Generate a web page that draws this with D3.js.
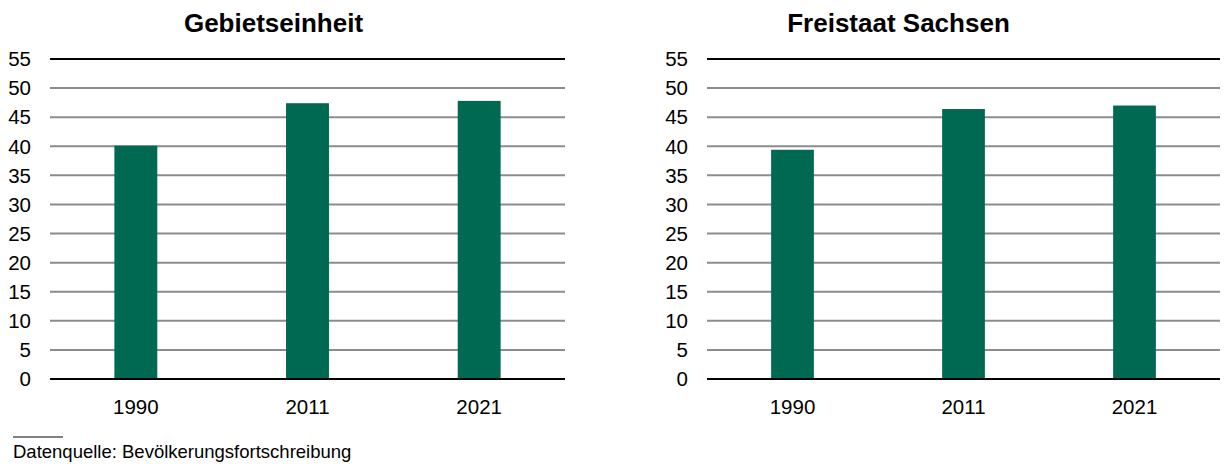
<!DOCTYPE html>
<html>
<head>
<meta charset="utf-8">
<script src="https://cdn.jsdelivr.net/npm/d3@7"></script>
<style>
  body { margin: 0; background: #fff; }
  svg { display: block; font-family: "Liberation Sans", Arial, sans-serif; }
</style>
</head>
<body>
<svg id="chart" width="1224" height="464"></svg>
<script>
var years = ["1990", "2011", "2021"];
var yTicks = [0, 5, 10, 15, 20, 25, 30, 35, 40, 45, 50, 55];
var panelTitles = ["Gebietseinheit", "Freistaat Sachsen"];
var gebietValues = [40.1, 47.4, 47.8];
var sachsenValues = [39.4, 46.4, 47.0];
var source = "Datenquelle: Bevölkerungsfortschreibung";

var svg = d3.select("#chart");
var BAR = "#006951";

var panels = [
  { title: panelTitles[0], values: gebietValues, x0: 50, x1: 565, labelX: 31, titleX: 273.5 },
  { title: panelTitles[1], values: sachsenValues, x0: 707, x1: 1220, labelX: 688, titleX: 898.5 }
];

var y = d3.scaleLinear().domain([0, 55]).range([379, 59]);

panels.forEach(function (p) {
  var g = svg.append("g");
  var x = d3.scaleBand().domain(years).range([p.x0, p.x1]).paddingInner(0.75).paddingOuter(0.375);

  g.append("text")
    .attr("x", p.titleX)
    .attr("y", 31.5)
    .attr("text-anchor", "middle")
    .attr("font-size", "26px")
    .attr("font-weight", "bold")
    .text(p.title);

  g.selectAll("line.grid")
    .data(yTicks)
    .join("line")
    .attr("class", "grid")
    .attr("x1", p.x0).attr("x2", p.x1)
    .attr("y1", function (d) { return y(d); })
    .attr("y2", function (d) { return y(d); })
    .attr("stroke", function (d) { return d === 55 || d === 0 ? "#000" : "#8c8c8c"; })
    .attr("stroke-width", 2);

  g.selectAll("text.ytick")
    .data(yTicks)
    .join("text")
    .attr("class", "ytick")
    .attr("x", p.labelX)
    .attr("y", function (d) { return y(d) + 7.3; })
    .attr("text-anchor", "end")
    .attr("font-size", "20.5px")
    .attr("fill", "#000")
    .text(function (d) { return d; });

  g.selectAll("rect")
    .data(p.values)
    .join("rect")
    .attr("x", function (d, i) { return x(years[i]); })
    .attr("width", x.bandwidth())
    .attr("y", function (d) { return y(d); })
    .attr("height", function (d) { return y(0) - y(d) - 1; })
    .attr("fill", BAR);

  g.selectAll("text.xtick")
    .data(years)
    .join("text")
    .attr("class", "xtick")
    .attr("x", function (d) { return x(d) + x.bandwidth() / 2; })
    .attr("y", 414)
    .attr("text-anchor", "middle")
    .attr("font-size", "20.5px")
    .text(function (d) { return d; });
});

svg.append("line")
  .attr("x1", 13).attr("x2", 63)
  .attr("y1", 437).attr("y2", 437)
  .attr("stroke", "#000").attr("stroke-width", 1);

svg.append("text")
  .attr("x", 13)
  .attr("y", 458)
  .attr("font-size", "18.5px")
  .text(source);
</script>
</body>
</html>
